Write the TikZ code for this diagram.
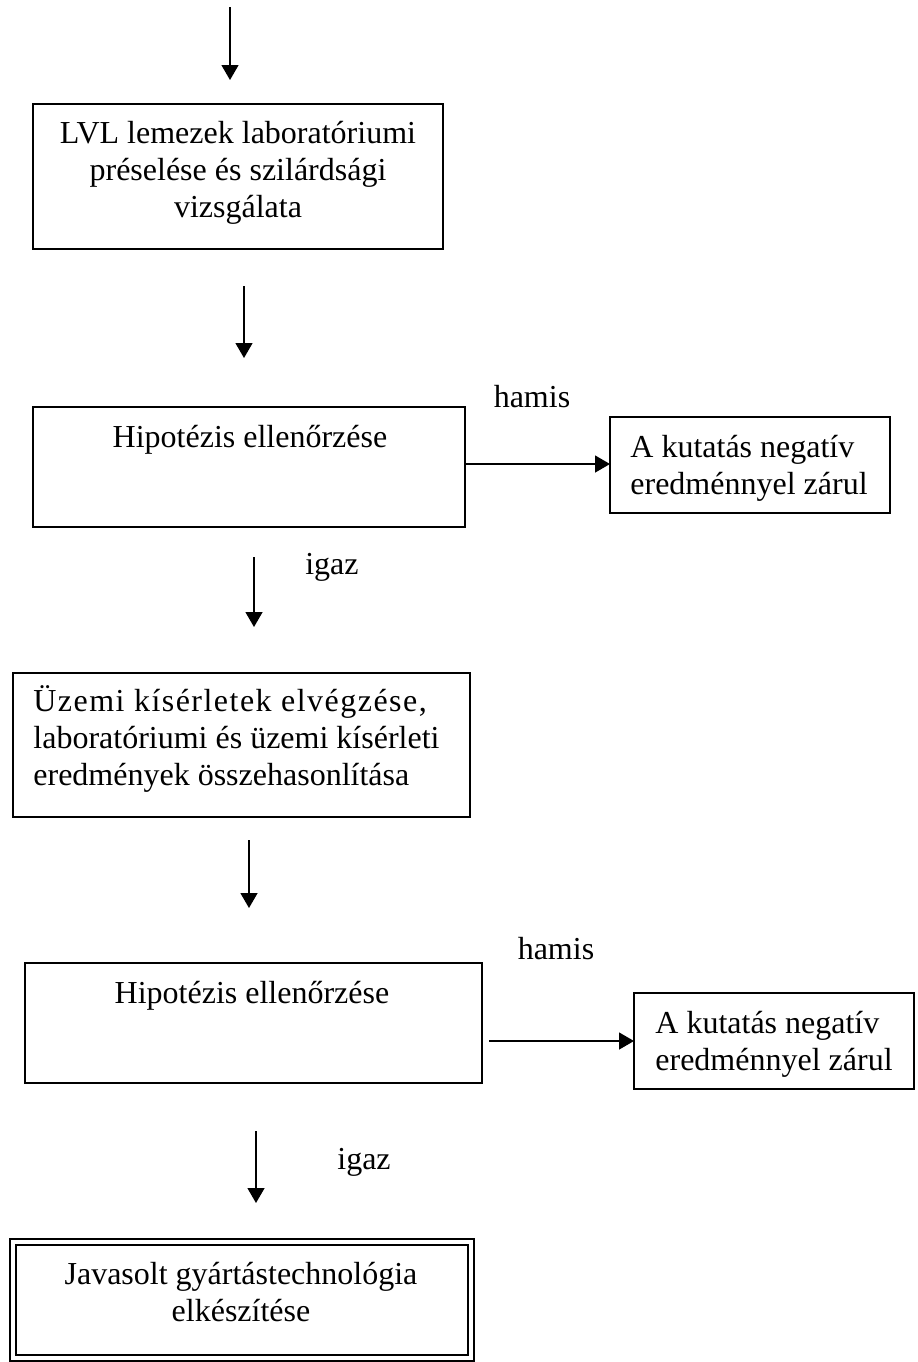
\documentclass[tikz,border=0pt]{standalone}
\usepackage{fontspec}
\setmainfont{Liberation Serif}
\usetikzlibrary{arrows.meta}
\begin{document}
\begin{tikzpicture}[x=0.5pt,y=-0.5pt,
  box/.style={draw, line width=1pt, inner sep=0pt, outer sep=0pt},
  conn/.style={line width=0.7pt, -{Triangle[width=8.5pt,length=7.5pt]}},
  txt/.style={inner sep=0pt, anchor=base, font=\fontsize{16pt}{18.5pt}\selectfont},
  ltxt/.style={txt, anchor=base west},
  wide/.style={font=\fontsize{16pt}{18.5pt}\selectfont\addfontfeature{LetterSpace=4.6}}]
\useasboundingbox (0,0) rectangle (917,1362);
% boxes
\node (b1) [box, minimum width=205pt, minimum height=72.5pt] at (238,176.5) {};
\node (b2) [box, minimum width=216pt, minimum height=60pt] at (249,467) {};
\node (n1) [box, minimum width=140pt, minimum height=48pt] at (750,465) {};
\node (b3) [box, minimum width=228.5pt, minimum height=72pt] at (241.5,745) {};
\node (b4) [box, minimum width=228.5pt, minimum height=60pt] at (253.5,1023) {};
\node (n2) [box, minimum width=140pt, minimum height=48pt] at (774,1041) {};
\node (b5) [box, minimum width=232pt, minimum height=61pt] at (242,1300) {};
\node (b5i) [box, minimum width=226pt, minimum height=55pt] at (242,1300) {};
% texts
\node (t1a) [txt] at (238,143) {LVL lemezek laboratóriumi};
\node (t1b) [txt] at (238,180) {préselése és szilárdsági};
\node (t1c) [txt] at (238,217) {vizsgálata};
\node (t2) [txt] at (250,447) {Hipotézis ellenőrzése};
\node (h1t) [txt] at (532,407) {hamis};
\node (n1a) [ltxt] at (630,457) {A kutatás negatív};
\node (n1b) [ltxt] at (630,494) {eredménnyel zárul};
\node (i1t) [txt] at (332,574) {igaz};
\node (t3a) [ltxt, wide] at (33,711) {Üzemi kísérletek elvégzése,};
\node (t3b) [ltxt] at (33,748) {laboratóriumi és üzemi kísérleti};
\node (t3c) [ltxt] at (33,785) {eredmények összehasonlítása};
\node (h2t) [txt] at (556,959) {hamis};
\node (t4) [txt] at (252,1003) {Hipotézis ellenőrzése};
\node (n2a) [ltxt] at (655,1033) {A kutatás negatív};
\node (n2b) [ltxt] at (655,1070) {eredménnyel zárul};
\node (i2t) [txt] at (364,1169) {igaz};
\node (t5a) [txt] at (241,1284) {Javasolt gyártástechnológia};
\node (t5b) [txt] at (241,1321) {elkészítése};
% connectors
\coordinate (s0) at (230,7);   \coordinate (e0) at (230,80);
\coordinate (s1) at (244,286); \coordinate (e1) at (244,358);
\coordinate (s2) at (254,557); \coordinate (e2) at (254,627);
\coordinate (s3) at (249,840); \coordinate (e3) at (249,908);
\coordinate (s4) at (256,1131); \coordinate (e4) at (256,1203);
\coordinate (hy) at (540,464);
\coordinate (h2s) at (489,1041);
\draw[conn] (s0) -- (e0);
\draw[conn] (s1) -- (e1);
\draw[conn] (s2) -- (e2);
\draw[conn] (s3) -- (e3);
\draw[conn] (s4) -- (e4);
\draw[conn] (b2.east |- hy) -- (n1.west |- hy);
\draw[conn] (h2s) -- (n2.west);
\end{tikzpicture}
\end{document}
